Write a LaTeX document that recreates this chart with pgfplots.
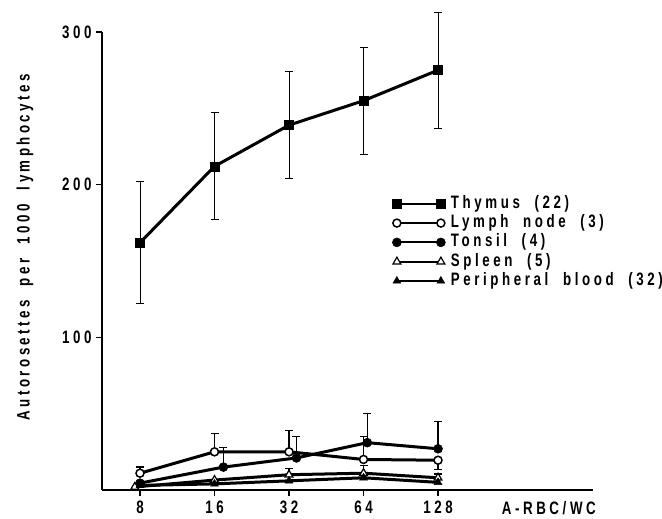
\documentclass[border=0pt]{standalone}
\usepackage{pgfplots}
\pgfplotsset{compat=1.18}
\usepackage{fontspec}
\setmainfont{Liberation Sans}[FakeStretch=0.74, LetterSpace=20, WordSpace=2]
\newfontfamily\ylabfont{Liberation Sans}[FakeStretch=0.74, LetterSpace=19, WordSpace=2]

\newcommand{\chartfont}{\bfseries\fontsize{18}{20}\selectfont}

\begin{document}
\begin{tikzpicture}
\path[use as bounding box] (-102pt,-29pt) rectangle (560pt,490pt);
\begin{axis}[
    scale only axis, width=491pt, height=458pt,
    at={(0,0)}, anchor=south west,
    xmin=-0.51, xmax=6.08, ymin=0, ymax=300,
    axis x line=bottom, axis y line=left,
    axis line style={line width=1.6pt, -},
    xtick={0,1,2,3,4}, xticklabels={8,16,32,64,128},
    ytick={100,200,300},
    tick align=outside, major tick length=6pt,
    tick style={line width=1.2pt, black},
    ticklabel style={font=\chartfont},
    /pgf/number format/assume math mode=true,
    xticklabel style={yshift=-1pt},
    yticklabel style={xshift=-1pt},
    clip=false,
    legend style={draw=none, fill=none, font=\chartfont,
        at={(rel axis cs:0.591,0.645)}, anchor=north west,
        row sep=1.3pt, inner sep=0pt,
        nodes={inner sep=1.5pt, text height=12pt, text depth=3pt}},
    legend cell align=left,
    legend image code/.code={\draw[#1, line width=2.2pt] plot coordinates {(0pt,0pt) (44pt,0pt)};
        \path (51pt,0pt);},
    every axis plot/.append style={black},
]
% error bars (drawn first, under the lines)
\addplot[draw=none, forget plot, error bars/.cd, y dir=both, y explicit,
    error bar style={line width=0.9pt}, error mark options={rotate=90, mark size=4pt, line width=0.9pt}]
  coordinates {(0,162) +- (0,40) (1,212) +- (0,35) (2,239) +- (0,35) (3,255) +- (0,35) (4,275) +- (0,38)};
\addplot[draw=none, forget plot, error bars/.cd, y dir=plus, y explicit,
    error bar style={line width=1.2pt}, error mark options={rotate=90, mark size=4pt, line width=1.2pt}]
  coordinates {(0,11) +- (0,4) (1,25) +- (0,12) (2,25) +- (0,14) (3,20) +- (0,15)};
\addplot[draw=none, forget plot, error bars/.cd, y dir=minus, y explicit,
    error bar style={line width=1.2pt}, error mark options={rotate=90, mark size=4pt, line width=1.2pt}]
  coordinates {(4,19.5) +- (0,6)};
\addplot[draw=none, forget plot, error bars/.cd, y dir=plus, y explicit,
    error bar style={line width=1.2pt}, error mark options={rotate=90, mark size=4pt, line width=1.2pt}]
  coordinates {(1.12,15) +- (0,13) (2.1,21) +- (0,14) (3.05,31) +- (0,19) (4,27) +- (0,18)};
\addplot[draw=none, forget plot, error bars/.cd, y dir=plus, y explicit,
    error bar style={line width=1.2pt}, error mark options={rotate=90, mark size=4pt, line width=1.2pt}]
  coordinates {(2,10) +- (0,4) (3,11) +- (0,5) (4,8) +- (0,2.5)};

% series
\addplot[line width=3pt, mark=square*, mark size=4.5pt, mark options={solid, line width=0.5pt}]
  coordinates {(0,162) (1,212) (2,239) (3,255) (4,275)};
\addlegendentry{Thymus (22)}
\addplot[line width=3pt, mark=*, mark size=4pt, mark options={solid, fill=white, line width=1.5pt}]
  coordinates {(0,11) (1,25) (2,25) (3,20) (4,19.5)};
\addlegendentry{Lymph node (3)}
\addplot[line width=3pt, mark=*, mark size=4.5pt, mark options={solid, line width=0.5pt}]
  coordinates {(0,4.5) (1.12,15) (2.1,21) (3.05,31) (4,27)};
\addlegendentry{Tonsil (4)}
\addplot[line width=3pt, mark=triangle*, mark size=4.5pt, mark options={solid, fill=white, line width=1.2pt}]
  coordinates {(-0.07,2) (1,6.5) (2,10) (3,11) (4,8)};
\addlegendentry{Spleen (5)}
\addplot[line width=3pt, mark=triangle*, mark size=4.5pt, mark options={solid, line width=0.5pt}]
  coordinates {(0,3) (1,4) (2,6) (3,8) (4,5)};
\addlegendentry{Peripheral blood (32)}

\node[font=\chartfont, anchor=north] at ([yshift=-8pt]rel axis cs:0.91,0) {A-RBC/WC};
\node[font=\ylabfont\bfseries\fontsize{18}{20}\selectfont, rotate=90] at ([xshift=-77pt]rel axis cs:0,0.53) {Autorosettes per 1000 lymphocytes};
\end{axis}
\end{tikzpicture}
\end{document}
